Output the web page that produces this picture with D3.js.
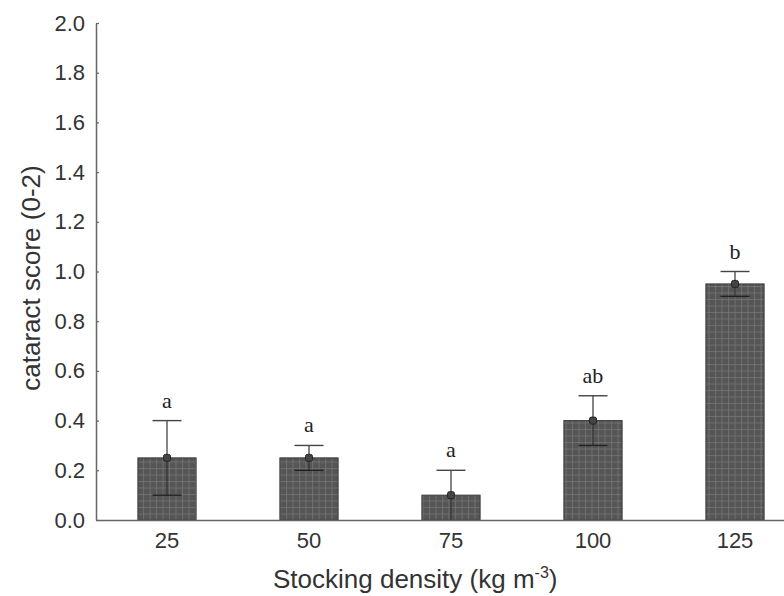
<!DOCTYPE html>
<html><head><meta charset="utf-8">
<script src="https://cdn.jsdelivr.net/npm/d3@7"></script>
<style>body{margin:0;background:#fff}svg{display:block}</style>
</head><body>
<svg id="c" width="784" height="596"></svg>
<script>
const categories = ["25","50","75","100","125"];
const means = [0.25, 0.25, 0.10, 0.40, 0.95];
const upper = [0.40, 0.30, 0.20, 0.50, 1.00];
const lower = [0.10, 0.20, 0.00, 0.30, 0.90];
const letters = ["a","a","a","ab","b"];
const yTicks = [0,0.2,0.4,0.6,0.8,1.0,1.2,1.4,1.6,1.8,2.0];

const svg = d3.select("#c");
const x0 = 96, yBase = 520, yTop = 23;
const x = d3.scaleBand().domain(categories).range([x0, 806]).paddingInner(0.59).paddingOuter(0.295);
const y = d3.scaleLinear().domain([0,2]).range([yBase, yTop]);
const sans = "'Liberation Sans',Arial,sans-serif";

const defs = svg.append("defs");
const pat = defs.append("pattern").attr("id","grid").attr("patternUnits","userSpaceOnUse")
  .attr("width",6.5).attr("height",6.5);
pat.append("rect").attr("width",6.5).attr("height",6.5).attr("fill","#555");
pat.append("path").attr("d","M0,0.5H6.5M0.5,0V6.5").attr("stroke","#737373").attr("stroke-width",0.8);

const g = svg.append("g");
g.selectAll("rect.bar").data(categories).join("rect").attr("class","bar")
  .attr("x", d=>x(d)).attr("width", x.bandwidth())
  .attr("y", (d,i)=>y(means[i])).attr("height",(d,i)=>yBase-y(means[i]))
  .attr("fill","url(#grid)").attr("stroke","#3a3a3a").attr("stroke-width",1);

const capW = 29;
categories.forEach((c,i)=>{
  const cx = x(c)+x.bandwidth()/2;
  g.append("line").attr("x1",cx).attr("x2",cx).attr("y1",y(lower[i])).attr("y2",y(upper[i]))
    .attr("stroke","#333").attr("stroke-width",1.2);
  g.append("line").attr("x1",cx-capW/2).attr("x2",cx+capW/2).attr("y1",y(upper[i])).attr("y2",y(upper[i]))
    .attr("stroke","#444").attr("stroke-width",1.4);
  if (lower[i] > 0) g.append("line").attr("x1",cx-capW/2).attr("x2",cx+capW/2).attr("y1",y(lower[i])).attr("y2",y(lower[i]))
    .attr("stroke","#222").attr("stroke-width",1.4);
  g.append("rect").attr("x",cx-3.5).attr("y",y(means[i])-3.5).attr("width",7).attr("height",7).attr("rx",2)
    .attr("fill","#444").attr("stroke","#222").attr("stroke-width",1);
  g.append("text").attr("x",cx).attr("y",y(upper[i])-13).attr("text-anchor","middle")
    .attr("font-family","'Liberation Serif','Times New Roman',serif").attr("font-size",22).attr("fill","#222")
    .text(letters[i]);
});

const yAxis = d3.axisLeft(y).tickValues(yTicks).tickFormat(d3.format(".1f")).tickSizeInner(-3).tickSizeOuter(0).tickPadding(11);
const ya = svg.append("g").attr("transform",`translate(${x0},0)`).call(yAxis);
ya.select(".domain").attr("stroke","#666").attr("stroke-width",1.5);
ya.selectAll(".tick line").attr("stroke","#666").attr("stroke-width",1.2);
ya.selectAll(".tick text").attr("font-family",sans).attr("font-size",22).attr("fill","#333");

const xAxis = d3.axisBottom(x).tickSize(0).tickPadding(12);
const xa = svg.append("g").attr("transform",`translate(0,${yBase})`).call(xAxis);
xa.select(".domain").attr("stroke","#666").attr("stroke-width",1.5);
xa.selectAll(".tick text").attr("font-family",sans).attr("font-size",22).attr("fill","#333");

const xt = svg.append("text").attr("x",273).attr("y",588).attr("text-anchor","start")
  .attr("font-family",sans).attr("font-size",26).attr("fill","#333");
xt.append("tspan").text("Stocking density (kg m");
xt.append("tspan").attr("dy",-10).attr("font-size",16).text("-3");
xt.append("tspan").attr("dy",10).text(")");

svg.append("text").attr("transform","translate(40,278) rotate(-90)").attr("text-anchor","middle")
  .attr("font-family",sans).attr("font-size",26).attr("fill","#333")
  .text("cataract score (0-2)");
</script>
</body></html>
